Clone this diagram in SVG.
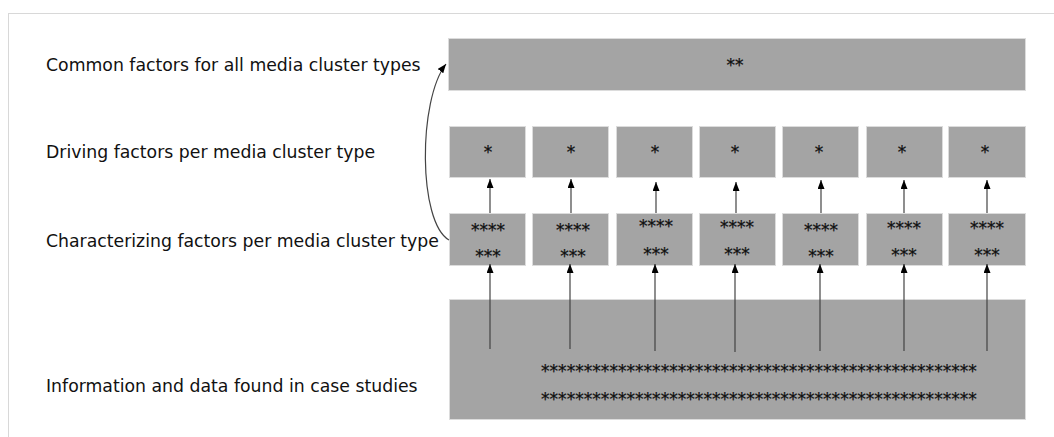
<svg xmlns="http://www.w3.org/2000/svg" width="1054" height="437" viewBox="0 0 1054 437">
<style>
.lbl{font-family:"DejaVu Sans",Verdana,sans-serif;font-size:17.3px;fill:#111}
.st{font-family:"DejaVu Sans",Verdana,sans-serif;font-size:17px;fill:#111;stroke:#111;stroke-width:0.25;text-anchor:middle}
.stl{font-family:"DejaVu Sans",Verdana,sans-serif;font-size:17.1px;fill:#111;stroke:#111;stroke-width:0.25}
.box{fill:#a4a4a4;stroke:#dcdcdc;stroke-width:1}
.ar{stroke:#444;stroke-width:1.2;fill:none;marker-end:url(#ah)}
</style>
<defs>
<marker id="ah" markerUnits="userSpaceOnUse" markerWidth="10" markerHeight="8" refX="9" refY="3.5" orient="auto">
<path d="M0,0 L9,3.5 L0,7 z" fill="#000"/>
</marker>
</defs>
<rect width="1054" height="437" fill="#fff"/>
<path d="M8,13.5 H1054 M8.5,13 V437" stroke="#d8d8d8" stroke-width="1" fill="none"/>
<g id="labels">
<text class="lbl" x="46" y="71">Common factors for all media cluster types</text>
<text class="lbl" x="46" y="158">Driving factors per media cluster type</text>
<text class="lbl" x="46" y="247">Characterizing factors per media cluster type</text>
<text class="lbl" x="46" y="392">Information and data found in case studies</text>
</g>
<g id="common"><rect class="box" x="448.5" y="38.5" width="577" height="52"/><text class="st" x="735" y="71">**</text></g>
<g id="d1"><rect class="box" x="449.5" y="126.5" width="76" height="51"/><text class="st" x="488" y="158">*</text></g>
<g id="d2"><rect class="box" x="532.5" y="126.5" width="76" height="51"/><text class="st" x="571" y="158">*</text></g>
<g id="d3"><rect class="box" x="616.5" y="126.5" width="76" height="51"/><text class="st" x="655" y="158">*</text></g>
<g id="d4"><rect class="box" x="699.5" y="126.5" width="76" height="51"/><text class="st" x="735" y="158">*</text></g>
<g id="d5"><rect class="box" x="782.5" y="126.5" width="76" height="51"/><text class="st" x="819" y="158">*</text></g>
<g id="d6"><rect class="box" x="866.5" y="126.5" width="76" height="51"/><text class="st" x="902" y="158">*</text></g>
<g id="d7"><rect class="box" x="948.5" y="126.5" width="77" height="51"/><text class="st" x="985" y="158">*</text></g>
<g id="c1"><rect class="box" x="449.5" y="213.5" width="76" height="52"/><text class="st" x="488" y="236">****</text><text class="st" x="488" y="262">***</text></g>
<g id="c2"><rect class="box" x="532.5" y="213.5" width="76" height="52"/><text class="st" x="573" y="236">****</text><text class="st" x="573" y="262">***</text></g>
<g id="c3"><rect class="box" x="616.5" y="213.5" width="76" height="52"/><text class="st" x="656" y="232">****</text><text class="st" x="656" y="260">***</text></g>
<g id="c4"><rect class="box" x="699.5" y="213.5" width="76" height="52"/><text class="st" x="737" y="233">****</text><text class="st" x="737" y="260">***</text></g>
<g id="c5"><rect class="box" x="782.5" y="213.5" width="76" height="52"/><text class="st" x="821" y="236">****</text><text class="st" x="821" y="262">***</text></g>
<g id="c6"><rect class="box" x="866.5" y="213.5" width="76" height="52"/><text class="st" x="904" y="234">****</text><text class="st" x="904" y="261">***</text></g>
<g id="c7"><rect class="box" x="948.5" y="213.5" width="77" height="52"/><text class="st" x="987" y="234">****</text><text class="st" x="987" y="261">***</text></g>
<g id="info"><rect class="box" x="449.5" y="299.5" width="576" height="120"/>
<text class="stl" x="541" y="377">***************************************************</text>
<text class="stl" x="541" y="405">***************************************************</text></g>
<g id="connectors">
<path class="ar" d="M490,213 V179"/>
<path class="ar" d="M571,213 V179"/>
<path class="ar" d="M656,213 V182"/>
<path class="ar" d="M736,213 V182"/>
<path class="ar" d="M821,213 V180"/>
<path class="ar" d="M904,213 V180"/>
<path class="ar" d="M987,213 V180"/>
<path class="ar" d="M490,349 V264"/>
<path class="ar" d="M570,349 V264"/>
<path class="ar" d="M655,351 V264"/>
<path class="ar" d="M735,352 V264"/>
<path class="ar" d="M820,351 V264"/>
<path class="ar" d="M904,351 V264"/>
<path class="ar" d="M987,351 V264"/>
<path class="ar" d="M449,240 C418,222 418,100 446,64" stroke-width="1"/>
</g>
</svg>
